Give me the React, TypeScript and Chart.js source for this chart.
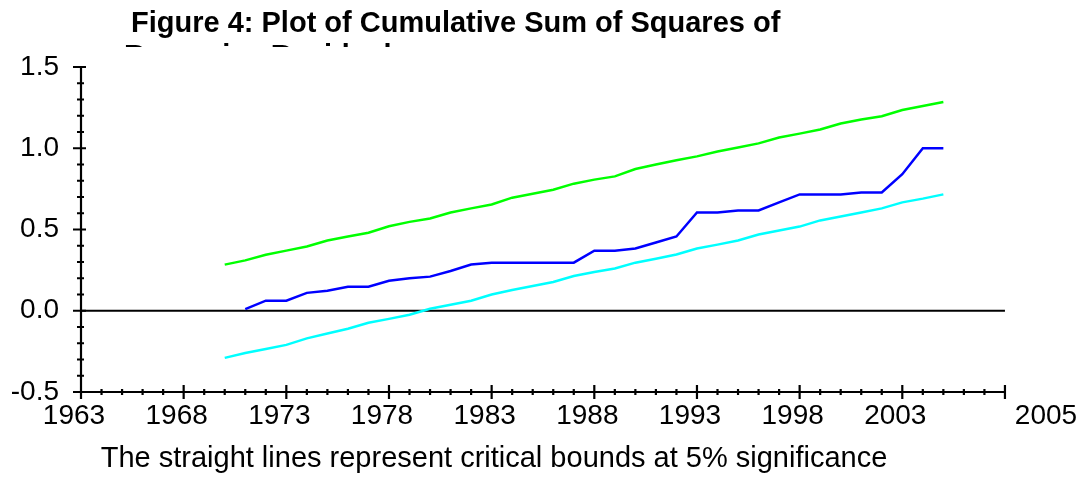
import React, { useEffect, useRef } from 'react';
import { Chart, registerables } from 'chart.js';

Chart.register(...registerables);

const titleLines = ['Figure 4: Plot of Cumulative Sum of Squares of', 'Recursive Residuals'];
const captionText = 'The straight lines represent critical bounds at 5% significance';

const boundYears = [
  1970, 1971, 1972, 1973, 1974, 1975, 1976, 1977, 1978, 1979, 1980, 1981,
  1982, 1983, 1984, 1985, 1986, 1987, 1988, 1989, 1990, 1991, 1992, 1993,
  1994, 1995, 1996, 1997, 1998, 1999, 2000, 2001, 2002, 2003, 2004, 2005,
];
const upperBound = [
  0.284, 0.31, 0.345, 0.37, 0.395, 0.432, 0.457, 0.48, 0.52, 0.547, 0.568, 0.605,
  0.63, 0.654, 0.696, 0.72, 0.745, 0.782, 0.807, 0.827, 0.872, 0.9, 0.926, 0.95,
  0.98, 1.004, 1.03, 1.066, 1.09, 1.115, 1.152, 1.177, 1.197, 1.235, 1.26, 1.284,
];
const lowerBound = [
  -0.29, -0.26, -0.235, -0.21, -0.17, -0.14, -0.111, -0.074, -0.05, -0.025, 0.012, 0.037,
  0.062, 0.1, 0.128, 0.152, 0.177, 0.214, 0.239, 0.26, 0.296, 0.32, 0.346, 0.383,
  0.407, 0.432, 0.469, 0.494, 0.518, 0.556, 0.58, 0.605, 0.63, 0.667, 0.69, 0.716,
];
const cusumYears = [
  1971, 1972, 1973, 1974, 1975, 1976, 1977, 1978, 1979, 1980, 1981, 1982,
  1983, 1984, 1985, 1986, 1987, 1988, 1989, 1990, 1991, 1992, 1993, 1994,
  1995, 1996, 1997, 1998, 1999, 2000, 2001, 2002, 2003, 2004, 2005,
];
const cusumsq = [
  0.01, 0.062, 0.062, 0.11, 0.123, 0.148, 0.148, 0.185, 0.2, 0.21, 0.245, 0.284,
  0.296, 0.296, 0.296, 0.296, 0.296, 0.37, 0.37, 0.383, 0.42, 0.457, 0.605, 0.605,
  0.617, 0.617, 0.667, 0.716, 0.716, 0.716, 0.728, 0.728, 0.84, 1.0, 1.0,
];

const xMax = 2010.34;
const xTickValues = [1963, 1968, 1973, 1978, 1983, 1988, 1993, 1998, 2003, xMax];
const xTickLabels = ['1963', '1968', '1973', '1978', '1983', '1988', '1993', '1998', '2003', '2005'];
const xAxisStart = 1963;
const xAxisEnd = 2008;
const yTickValues = [-0.5, 0, 0.5, 1.0, 1.5];

const FONT = '"Liberation Sans", Arial, Helvetica, sans-serif';

const decorPlugin = {
  id: 'decor',
  beforeDatasetsDraw(chart: any) {
    const { ctx, scales } = chart;
    const x = scales.x;
    const y = scales.y;
    ctx.save();
    ctx.strokeStyle = '#000';
    ctx.lineWidth = 2;
    ctx.beginPath();
    ctx.moveTo(x.getPixelForValue(xAxisStart), y.getPixelForValue(0));
    ctx.lineTo(x.getPixelForValue(xAxisEnd), y.getPixelForValue(0));
    ctx.stroke();
    ctx.restore();
  },
  afterDraw(chart: any) {
    const { ctx, scales } = chart;
    const x = scales.x;
    const y = scales.y;
    const x0 = x.getPixelForValue(xAxisStart);
    const x1 = x.getPixelForValue(xAxisEnd);
    const yb = y.getPixelForValue(-0.5);
    const yt = y.getPixelForValue(1.5);
    ctx.save();
    ctx.strokeStyle = '#000';
    ctx.lineWidth = 2.2;
    ctx.beginPath();
    ctx.moveTo(x0, yt);
    ctx.lineTo(x0, yb);
    ctx.moveTo(x0, yb);
    ctx.lineTo(x1, yb);
    // x ticks
    for (let yr = xAxisStart; yr <= xAxisEnd; yr++) {
      const px = x.getPixelForValue(yr);
      const major = (yr - xAxisStart) % 5 === 0;
      const len = major ? 7 : 3;
      ctx.moveTo(px, yb - len);
      ctx.lineTo(px, yb + len);
    }
    // y ticks
    for (let i = 0; i <= 20; i++) {
      const v = -0.5 + i * 0.1;
      const py = y.getPixelForValue(v);
      const major = i % 5 === 0;
      ctx.moveTo(x0 - (major ? 8 : 4), py);
      ctx.lineTo(x0 + (major ? 5 : 3), py);
    }
    ctx.stroke();

    // title (second line clipped as in the source)
    ctx.fillStyle = '#000';
    ctx.font = 'bold 29px ' + FONT;
    ctx.textAlign = 'left';
    ctx.textBaseline = 'alphabetic';
    ctx.fillText(titleLines[0], 131, 32);
    ctx.save();
    ctx.beginPath();
    ctx.rect(0, 0, chart.width, 47);
    ctx.clip();
    ctx.fillText(titleLines[1], 124, 64.5);
    ctx.restore();

    // caption
    ctx.font = '29px ' + FONT;
    ctx.textAlign = 'center';
    ctx.fillText(captionText, 494, 467);
    ctx.restore();
  },
};

export default function App() {
  const canvasRef = useRef<HTMLCanvasElement | null>(null);

  useEffect(() => {
    if (!canvasRef.current) return;
    const chart = new Chart(canvasRef.current, {
      type: 'line',
      data: {
        datasets: [
          {
            label: 'Upper bound',
            data: boundYears.map((yr, i) => ({ x: yr, y: upperBound[i] })),
            borderColor: '#00ff00',
            borderWidth: 2.5,
            pointRadius: 0,
            tension: 0,
            fill: false,
          },
          {
            label: 'CUSUM of squares',
            data: cusumYears.map((yr, i) => ({ x: yr, y: cusumsq[i] })),
            borderColor: '#0000ff',
            borderWidth: 2.5,
            pointRadius: 0,
            tension: 0,
            fill: false,
          },
          {
            label: 'Lower bound',
            data: boundYears.map((yr, i) => ({ x: yr, y: lowerBound[i] })),
            borderColor: '#00ffff',
            borderWidth: 2.5,
            pointRadius: 0,
            tension: 0,
            fill: false,
          },
        ],
      },
      options: {
        animation: false,
        responsive: true,
        maintainAspectRatio: false,
        layout: { padding: { left: 0, right: 31, top: 67, bottom: 0 } },
        plugins: {
          legend: { display: false },
          title: { display: false },
          tooltip: { enabled: false },
        },
        scales: {
          x: {
            type: 'linear',
            min: 1963,
            max: xMax,
            grid: { display: false, drawTicks: false },
            border: { display: false },
            afterBuildTicks: (scale: any) => {
              scale.ticks = xTickValues.map((v) => ({ value: v }));
            },
            afterFit: (scale: any) => {
              scale.height = 85;
              scale.paddingLeft = 0;
              scale.paddingRight = 0;
            },
            ticks: {
              color: '#000',
              font: { family: FONT, size: 28 },
              padding: 7,
              labelOffset: -7,
              maxRotation: 0,
              autoSkip: false,
              callback: (v: any) => {
                const idx = xTickValues.indexOf(Number(v));
                return idx >= 0 ? xTickLabels[idx] : '';
              },
            },
          },
          y: {
            type: 'linear',
            min: -0.5,
            max: 1.5,
            grid: { display: false, drawTicks: false },
            border: { display: false },
            afterBuildTicks: (scale: any) => {
              scale.ticks = yTickValues.map((v) => ({ value: v }));
            },
            afterFit: (scale: any) => {
              scale.width = 81;
              scale.paddingTop = 0;
              scale.paddingBottom = 0;
            },
            ticks: {
              color: '#000',
              font: { family: FONT, size: 28 },
              padding: 22,
              callback: (v: any) => Number(v).toFixed(1),
            },
          },
        },
      },
      plugins: [decorPlugin],
    });
    return () => chart.destroy();
  }, []);

  return (
    <div style={{ position: 'fixed', left: 0, top: 0, width: '1084px', height: '477px', background: '#fff' }}>
      <canvas ref={canvasRef} />
    </div>
  );
}
